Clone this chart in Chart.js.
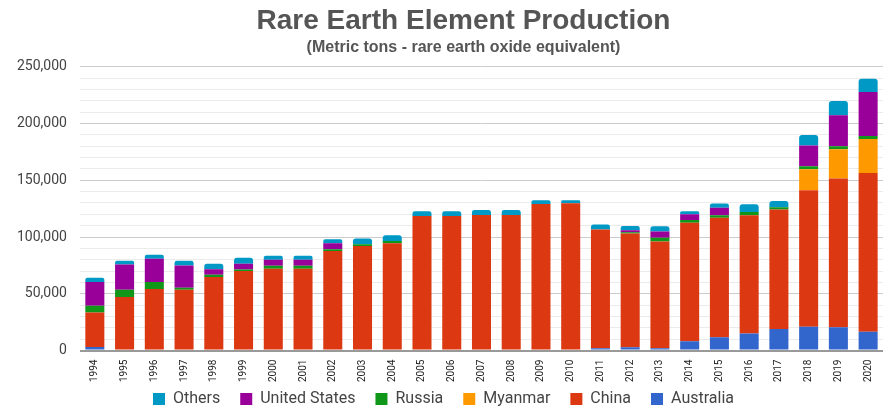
<!DOCTYPE html>
<html>
<head>
<meta charset="utf-8">
<script src="https://cdn.jsdelivr.net/npm/chart.js@4"></script>
<style>
    html, body { margin: 0; padding: 0; background: #fff; }
    #wrap { width: 894px; height: 408px; position: relative; }
</style>
</head>
<body>
<div id="wrap"><canvas id="reeChart"></canvas></div>
<script>
// ===== DADOS =====
const years = ['1994', '1995', '1996', '1997', '1998', '1999', '2000', '2001', '2002', '2003', '2004', '2005', '2006', '2007',
    '2008', '2009', '2010', '2011', '2012', '2013', '2014', '2015', '2016', '2017', '2018', '2019', '2020'];

const australia = [3100, 0, 0, 0, 0, 0, 0, 0, 0, 0, 0, 0, 0, 0,
    0, 0, 0, 2000, 2800, 1900, 8100, 11600, 15100, 18900, 20900, 20400, 16500];
const china = [30500, 47100, 54100, 53500, 64700, 70000, 72000, 72000, 87600, 92200, 94600, 118600, 118600, 119500,
    119500, 129200, 129800, 104700, 100300, 94200, 104400, 105300, 104100, 105400, 120300, 131100, 140000];
const myanmar = [0, 0, 0, 0, 0, 0, 0, 0, 0, 0, 0, 0, 0, 0,
    0, 0, 0, 0, 0, 0, 0, 0, 0, 0, 18500, 25800, 29900];
const russia = [5900, 6400, 6200, 1800, 2000, 1500, 2600, 2600, 1700, 1500, 1800, 0, 0, 0,
    0, 0, 0, 0, 1200, 3200, 2600, 2300, 2900, 2000, 2700, 2700, 2600];
const unitedStates = [20900, 22400, 20500, 19700, 5000, 4900, 5300, 5300, 5300, 0, 0, 0, 0, 0,
    0, 0, 0, 0, 1700, 5600, 5000, 6500, 0, 0, 18200, 27200, 38700];
const others = [3800, 3100, 3500, 4000, 4700, 5300, 3500, 3500, 3500, 5000, 5200, 4200, 4200, 4400,
    4400, 3200, 2600, 4300, 3800, 4700, 2700, 3800, 6800, 5500, 9300, 12600, 11800];

const yTickLabels = [0, 50000, 100000, 150000, 200000, 250000];

// arredonda só o topo da pilha
function topRadius(ctx) {
    const i = ctx.dataIndex;
    const sets = ctx.chart.data.datasets;
    for (let d = sets.length - 1; d >= 0; d--) {
        if (sets[d].data[i] > 0) {
            return d === ctx.datasetIndex ? { topLeft: 3, topRight: 3, bottomLeft: 0, bottomRight: 0 } : 0;
        }
    }
    return 0;
}

function makeSet(label, data, color) {
    return {
        label: label,
        data: data,
        backgroundColor: color,
        borderWidth: 0,
        borderRadius: topRadius,
        borderSkipped: false,
        barPercentage: 0.64,
        categoryPercentage: 1.0
    };
}

// legenda mais colada aos rótulos do eixo x, títulos um pouco à direita
const layoutTweaks = {
    id: 'layoutTweaks',
    beforeUpdate(chart) {
        const lg = chart.legend;
        if (lg && !lg._tight) {
            lg._tight = true;
            const fit = lg.fit;
            lg.fit = function () { fit.call(this); this.height = 25; };
            const draw = lg.draw;
            lg.draw = function () {
                this.top -= 12;
                draw.apply(this, arguments);
                this.top += 12;
            };
        }
    },
    afterLayout(chart) {
        chart.boxes.forEach(b => {
            if (b === chart.legend || !b.options || typeof b.options.text !== 'string' || b._shifted) return;
            b._shifted = true;
            const draw = b.draw;
            b.draw = function () {
                this.left += 20; this.right += 20;
                draw.apply(this, arguments);
                this.left -= 20; this.right -= 20;
            };
        });
    }
};

Chart.defaults.font.family = 'Roboto, "Liberation Sans", sans-serif';

new Chart(document.getElementById('reeChart'), {
    type: 'bar',
    data: {
        labels: years,
        datasets: [
            makeSet('Australia', australia, '#3366cc'),
            makeSet('China', china, '#dc3912'),
            makeSet('Myanmar', myanmar, '#ff9900'),
            makeSet('Russia', russia, '#109618'),
            makeSet('United States', unitedStates, '#990099'),
            makeSet('Others', others, '#0099c6')
        ]
    },
    plugins: [layoutTweaks],
    options: {
        responsive: true,
        maintainAspectRatio: false,
        animation: false,
        layout: { padding: { left: 4, right: 11, top: 0, bottom: 0 } },
        plugins: {
            title: {
                display: true,
                text: 'Rare Earth Element Production',
                color: '#555',
                font: { family: '"Liberation Sans", Arial, sans-serif', size: 28, weight: 'bold' },
                padding: { top: 4, bottom: 0 }
            },
            subtitle: {
                display: true,
                text: '(Metric tons - rare earth oxide equivalent)',
                color: '#555',
                font: { family: '"Liberation Sans", Arial, sans-serif', size: 16, weight: 'bold' },
                padding: { top: 0, bottom: 10 }
            },
            legend: {
                position: 'bottom',
                reverse: true,
                labels: {
                    boxWidth: 12,
                    boxHeight: 12,
                    padding: 20,
                    color: '#444',
                    font: { size: 16 }
                }
            },
            tooltip: { enabled: false }
        },
        scales: {
            x: {
                stacked: true,
                grid: { display: false },
                border: { display: false },
                ticks: {
                    minRotation: 90,
                    maxRotation: 90,
                    autoSkip: false,
                    color: '#222',
                    font: { size: 10 },
                    padding: 1
                }
            },
            y: {
                stacked: true,
                min: 0,
                max: 250000,
                border: { display: false },
                grid: {
                    drawTicks: false,
                    color: ctx => {
                        const v = ctx.tick ? ctx.tick.value : 1;
                        if (v === 0) return '#999';
                        return yTickLabels.includes(v) ? '#ccc' : '#ebebeb';
                    },
                    lineWidth: ctx => (ctx.tick && ctx.tick.value === 0 ? 2 : 1)
                },
                ticks: {
                    stepSize: 10000,
                    autoSkip: false,
                    padding: 13,
                    color: '#444',
                    font: { size: 14 },
                    callback: v => (yTickLabels.includes(v) ? v.toLocaleString('en-US') : '')
                }
            }
        }
    }
});
</script>
</body>
</html>
